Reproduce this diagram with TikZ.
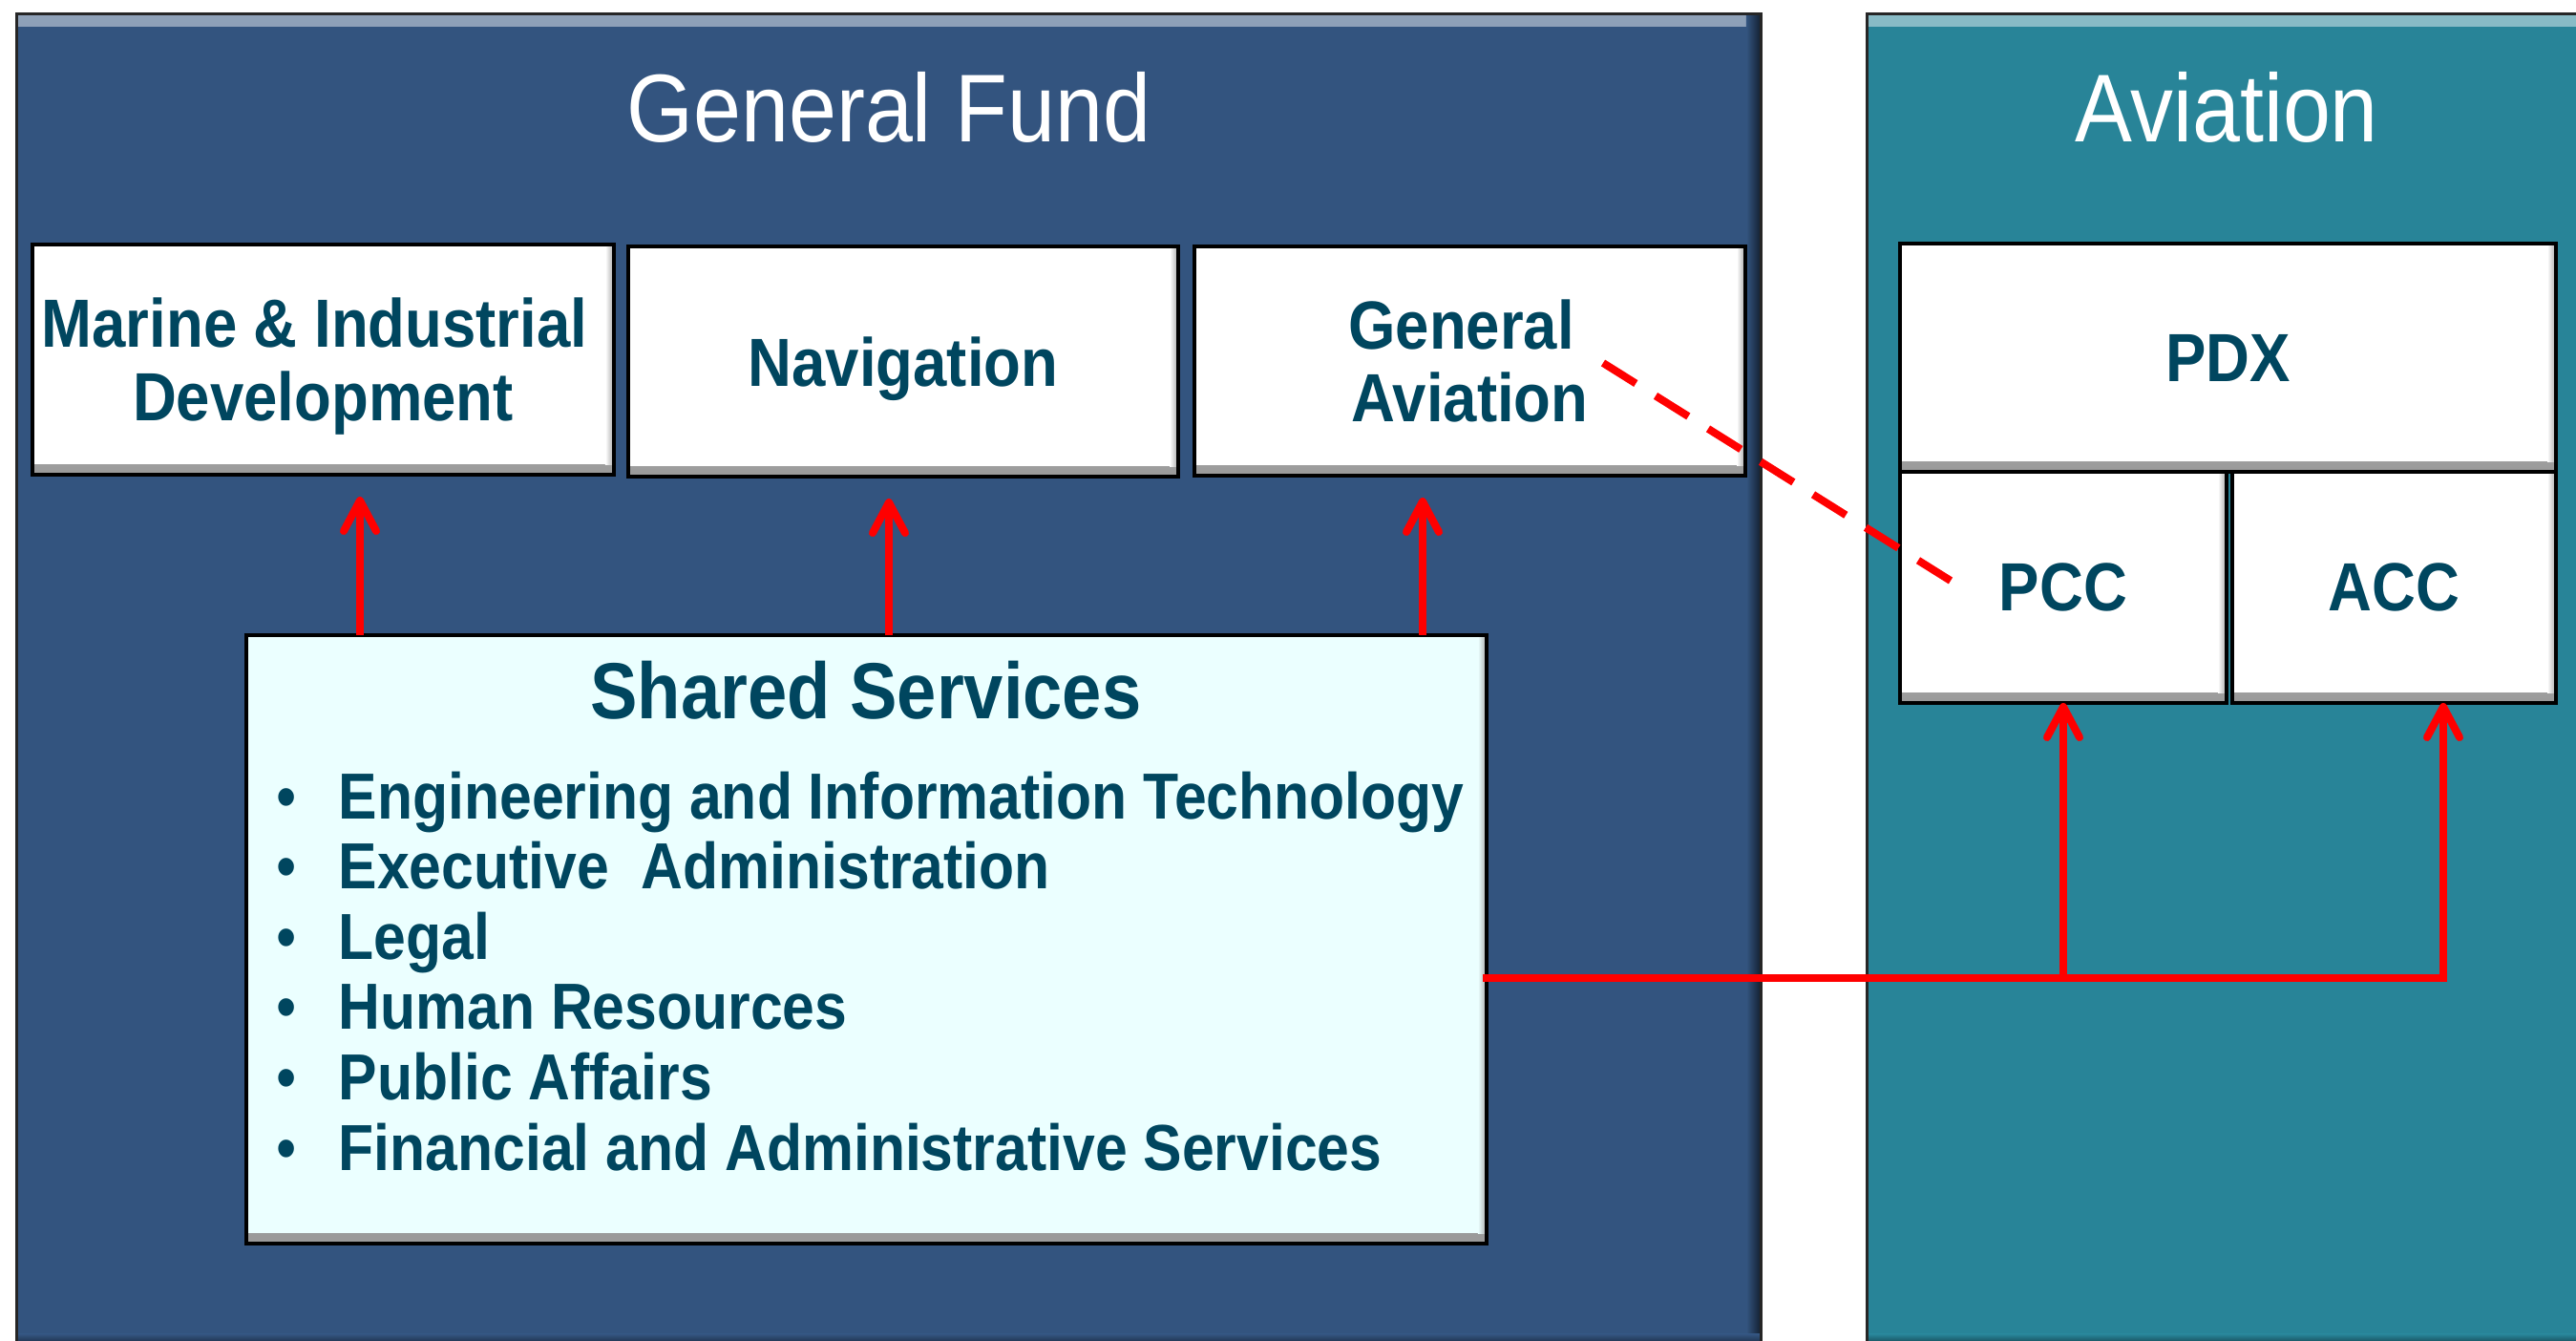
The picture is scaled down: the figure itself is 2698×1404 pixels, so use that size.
\documentclass[tikz,border=0pt]{standalone}
\usepackage{fontspec}
\setmainfont{Liberation Sans}[FakeStretch=0.89]
\usetikzlibrary{arrows.meta,calc}

\definecolor{gfblue}{RGB}{51,84,127}
\definecolor{avteal}{RGB}{40,132,152}
\definecolor{labelc}{RGB}{0,70,95}
\definecolor{sscyan}{RGB}{235,255,255}
\definecolor{linkred}{RGB}{255,0,0}

\newcommand{\paneltitlefont}{\fontsize{28.7}{31}\selectfont}
\newcommand{\unitfont}{\fontsize{20.3}{21.9}\selectfont\bfseries}
\newcommand{\sstitlefont}{\fontsize{23.7}{26}\selectfont\bfseries}
\newcommand{\ssitemfont}{\fontsize{19.4}{20.9}\selectfont\bfseries}
% a line of label text without its descender depth, so labels centre on their capitals
\newcommand{\nodepth}[1]{\raisebox{0pt}[\height][0pt]{#1}}
% a trailing word space that survives the end of a centred line
\newcommand{\trailsp}{\hspace*{5.1pt}}

\begin{document}
\begin{tikzpicture}[x=0.1mm,y=-0.1mm,
  panel/.style={draw=black!85, line width=0.3mm, fill=#1,
    inner sep=0pt, outer sep=0pt, anchor=north west,
    path picture={
      \shade[top color=#1!55!white, bottom color=#1]
        (path picture bounding box.north west) rectangle
        ([yshift=-1.3mm]path picture bounding box.north east);
      \shade[left color=#1, right color=#1!35!black]
        ([xshift=-1.6mm]path picture bounding box.north east) rectangle
        (path picture bounding box.south east);
      \shade[top color=#1, bottom color=#1!35!black]
        ([yshift=1.4mm]path picture bounding box.south west) rectangle
        (path picture bounding box.south east);
    }},
  unitbox/.style={draw=black, line width=0.35mm, fill=#1,
    inner sep=0pt, outer sep=0pt, anchor=north west,
    text=labelc, font=\unitfont, align=center,
    path picture={
      \shade[top color=#1, bottom color=black!40]
        ([yshift=1.1mm]path picture bounding box.south west) rectangle
        (path picture bounding box.south east);
      \shade[left color=#1, right color=black!35]
        ([xshift=-0.9mm]path picture bounding box.north east) rectangle
        ([yshift=1.1mm]path picture bounding box.south east);
    }},
  unitbox/.default=white,
  paneltitle/.style={text=white, font=\paneltitlefont, anchor=base, inner sep=0pt},
  ssitem/.style={text=labelc, font=\ssitemfont, anchor=base west, inner sep=0pt},
  redlink/.style={draw=linkred, line width=0.8mm},
  redarrow/.style={redlink, -{Straight Barb[length=3.2mm, width=3.4mm, round]}},
  reddash/.style={draw=linkred, line width=0.8mm, dash pattern=on 4.05mm off 2.44mm}
]
\useasboundingbox (0,0) rectangle (2698,1404);
\clip (0,0) rectangle (2698,1404);
\fill[white] (0,0) rectangle (2698,1404);

% fund panels
\node[panel=gfblue, minimum width=182.8mm, minimum height=139.7mm] (gf) at (17,14) {};
\node[panel=avteal, minimum width=76mm, minimum height=139.7mm] (av) at (1955,14) {};
\node[paneltitle] (gftitle) at (931,148) {General Fund};
\node[paneltitle] (avtitle) at (2332,148) {Aviation};

% general fund units
\node[unitbox, minimum width=60.9mm, minimum height=24.1mm] (mid) at (34,256)
  {Marine \& Industrial\trailsp\\\nodepth{Development}};
\node[unitbox, minimum width=57.6mm, minimum height=24.1mm] (nav) at (658,258)
  {\nodepth{Navigation}};
\node[unitbox, minimum width=57.7mm, minimum height=24.0mm] (gav) at (1251,258)
  {General\trailsp\\Aviation};

% aviation units
\node[unitbox, minimum width=68.7mm, minimum height=23.9mm] (pdx) at (1990,255) {PDX};
\node[unitbox, minimum width=34.2mm, minimum height=24.2mm] (pcc) at (1990,494) {PCC};
\node[unitbox, minimum width=33.9mm, minimum height=24.2mm] (acc) at (2338,494) {ACC};

% shared services
\node[unitbox=sscyan, minimum width=129.9mm, minimum height=63.7mm] (ss) at (258,665) {};
\node[text=labelc, font=\sstitlefont, anchor=base, inner sep=0pt] (sstitle) at (907,752)
  {Shared Services};
\foreach \t [count=\i from 0] in {Engineering and Information Technology,
    Executive\ \ Administration, Legal, Human Resources, Public Affairs,
    Financial and Administrative Services}
  \node[ssitem] (ssitem\i) at (354,857+73.6*\i)
    {\llap{\makebox[18.5pt][l]{\mdseries\textbullet}}\t};

% service links
\coordinate (amid) at (377,0);
\coordinate (anav) at (931,0);
\coordinate (agav) at (1490,0);
\foreach \a/\b in {amid/mid, anav/nav, agav/gav}
  \draw[redarrow, shorten >=2.3mm] (ss.north -| \a) -- (\b.south -| \a);

\coordinate (jpcc) at (2161,1024);
\coordinate (jacc) at (2559,1024);
\draw[redlink, line cap=rect] (ss.east |- jpcc) -- (jacc);
\draw[redarrow] (jpcc) -- (pcc.south -| jpcc);
\draw[redarrow] (jacc) -- (acc.south -| jacc);

% general aviation to PCC
\coordinate (dstart) at ($(gav.center)+(139.5,2)$);
\coordinate (dend) at ($(pcc.center)+(-118,-7)$);
\draw[reddash] (dstart) -- (dend);
\end{tikzpicture}
\end{document}
